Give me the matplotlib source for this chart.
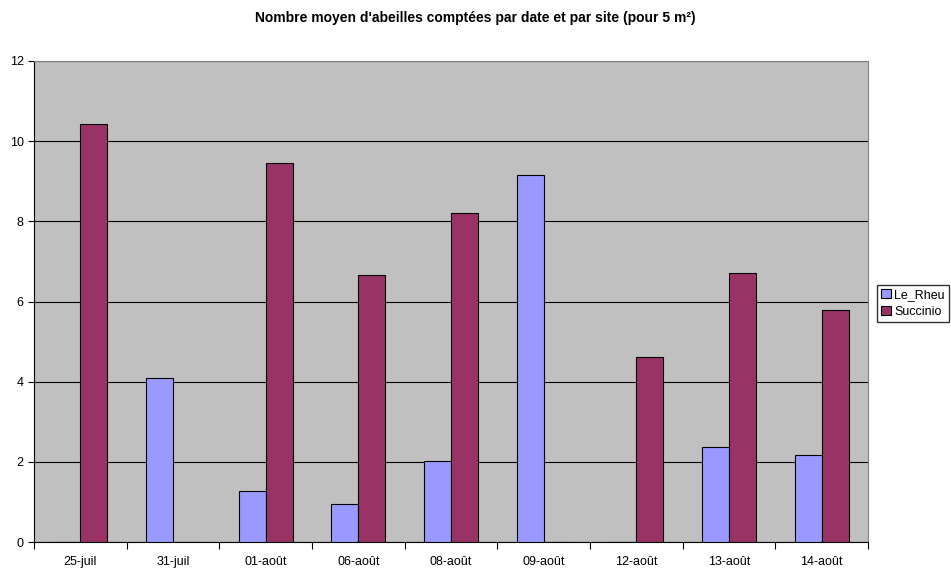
import numpy as np
import matplotlib
import matplotlib.pyplot as plt

matplotlib.use("Agg")
plt.rcParams["font.family"] = ["Liberation Sans", "DejaVu Sans"]

# data
dates = ["25-juil", "31-juil", "01-août", "06-août", "08-août",
         "09-août", "12-août", "13-août", "14-août"]
le_rheu = [0, 4.08, 1.27, 0.95, 2.02, 9.16, 0, 2.36, 2.17]
succinio = [10.43, 0, 9.46, 6.67, 8.21, 0, 4.61, 6.70, 5.80]

fig = plt.figure(figsize=(9.51, 5.72), dpi=100)
ax = fig.add_axes([0.0358, 0.0524, 0.8769, 0.841])
ax.set_facecolor("#c0c0c0")

x = np.arange(len(dates))
w = 0.29
ax.bar(x - w / 2, le_rheu, w, color="#9999ff", edgecolor="black",
       linewidth=0.8, label="Le_Rheu", zorder=3)
ax.bar(x + w / 2, succinio, w, color="#993366", edgecolor="black",
       linewidth=0.8, label="Succinio", zorder=3)

ax.set_xlim(-0.5, len(dates) - 0.5)
ax.set_ylim(0, 12)
ax.set_yticks(range(0, 13, 2))
ax.yaxis.grid(True, color="black", linewidth=0.8, zorder=1)
ax.set_xticks(x)
ax.set_xticklabels(dates, fontsize=9)
ax.set_xticks(np.arange(len(dates) + 1) - 0.5, minor=True)
ax.tick_params(axis="x", which="major", length=0, pad=10)
ax.tick_params(axis="x", which="minor", length=5, width=0.8)
ax.tick_params(axis="y", labelsize=9, length=4, width=0.8)
for side in ["top", "right"]:
    ax.spines[side].set_color("#808080")
for side in ["left", "bottom"]:
    ax.spines[side].set_linewidth(0.8)

fig.text(0.5, 0.968, "Nombre moyen d'abeilles comptées par date et par site (pour 5 m²)",
         ha="center", va="center", fontsize=10, fontweight="bold")

fig.legend(loc="center left", bbox_to_anchor=(0.922, 0.47), fontsize=9,
           frameon=True, fancybox=False, edgecolor="black", handlelength=0.8,
           handleheight=0.8, handletextpad=0.3, borderpad=0.3,
           labelspacing=0.4, borderaxespad=0)

fig.savefig("out.png", dpi=100)
